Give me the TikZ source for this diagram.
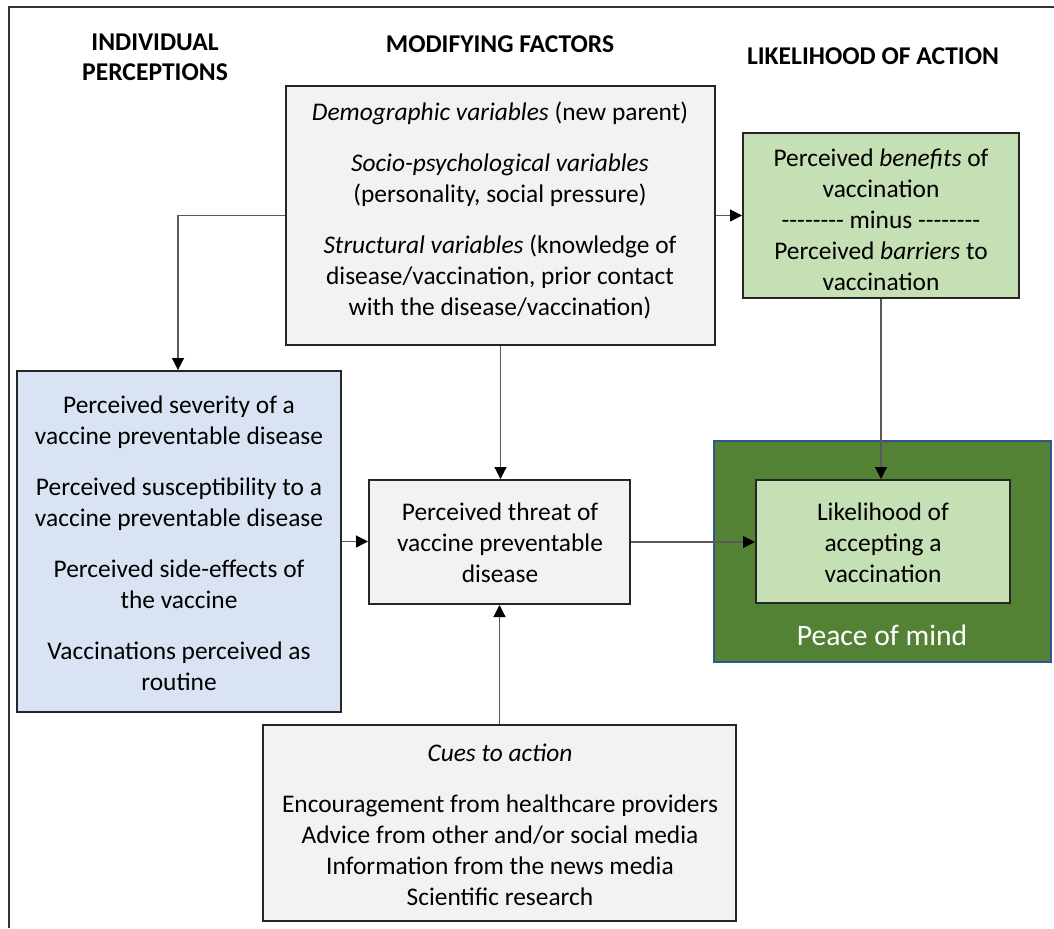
\documentclass[tikz,border=0pt]{standalone}
\usepackage{fontspec}
\setmainfont{Carlito}[Ligatures=TeXOff]
\usetikzlibrary{arrows.meta}
\definecolor{boxgray}{HTML}{F2F2F2}
\definecolor{boxblue}{HTML}{DAE3F3}
\definecolor{boxlgreen}{HTML}{C5E0B4}
\definecolor{boxdgreen}{HTML}{548235}
\definecolor{borderblue}{HTML}{2F5597}
\tikzset{
  box/.style={draw=black!85, line width=1pt, inner sep=0pt},
  txt/.style={align=center, inner sep=0pt, font=\fontsize{12.7}{15.5}\selectfont},
  head/.style={align=center, inner sep=0pt, font=\fontsize{12.8}{15}\selectfont\bfseries},
  arr/.style={draw=black!65, line width=0.6pt, -{Triangle[length=6pt,width=6pt,color=black]}}
}
\begin{document}
\begin{tikzpicture}[x=0.5pt,y=-0.5pt]
\useasboundingbox (0,0) rectangle (1054,928);
% outer frame (cut off on right and bottom)
\draw[black!80, line width=1pt] (9,928) -- (9,7) -- (1054,7);

% headings
\node[head] (h1) at (155,57) {INDIVIDUAL\\PERCEPTIONS};
\node[head] (h2) at (500,44) {MODIFYING FACTORS};
\node[head] (h3) at (873,56) {LIKELIHOOD OF ACTION};

% boxes
\node[box, fill=boxgray, minimum width=214.5pt, minimum height=129.5pt] (mod) at (500.5,215.5) {};
\node[box, fill=boxlgreen, minimum width=138pt, minimum height=82.5pt] (ben) at (881,215.5) {};
\node[box, fill=boxblue, minimum width=162pt, minimum height=170.5pt] (ind) at (179,541.5) {};
\node[box, fill=boxgray, minimum width=130.5pt, minimum height=62pt] (thr) at (499.5,542) {};
\node[draw=borderblue, line width=1pt, fill=boxdgreen, inner sep=0pt, minimum width=168.5pt, minimum height=110.5pt] (pom) at (882.5,551.5) {};
\node[box, fill=boxlgreen, minimum width=127pt, minimum height=61.5pt] (lik) at (883,541.5) {};
\node[box, fill=boxgray, minimum width=236.5pt, minimum height=98pt] (cue) at (499.5,823) {};

% texts
\node[txt] (modt) at (500,210) {\textit{Demographic variables} (new parent)\\[10pt]
\textit{Socio-psychological variables}\\(personality, social pressure)\\[10pt]
\textit{Structural variables} (knowledge of\\disease/vaccination, prior contact\\with the disease/vaccination)};
\node[txt] (bent) at (881,220) {Perceived \textit{benefits} of\\vaccination\\-------- minus --------\\Perceived \textit{barriers} to\\vaccination};
\node[txt] (indt) at (179,543) {Perceived severity of a\\vaccine preventable disease\\[10pt]
Perceived susceptibility to a\\vaccine preventable disease\\[10pt]
Perceived side-effects of\\the vaccine\\[10pt]
Vaccinations perceived as\\routine};
\node[txt] (thrt) at (500,543) {Perceived threat of\\vaccine preventable\\disease};
\node[txt] (likt) at (883,543) {Likelihood of\\accepting a\\vaccination};
\node[txt, text=white, font=\fontsize{14.8}{17}\selectfont] (pomt) at (882,635) {Peace of mind};
\node[txt] (cuet) at (500,824.5) {\textit{Cues to action}\\[10pt]
Encouragement from healthcare providers\\Advice from other and/or social media\\Information from the news media\\Scientific research};

% connectors
\coordinate (bend) at (178,215.5);
\draw[arr] (mod.west) -- (bend) -- (bend |- ind.north);
\draw[arr] (mod.east) -- (ben.west);
\draw[arr] (mod.south) -- (mod.south |- thr.north);
\draw[arr] (ind.east) -- (ind.east -| thr.west);
\draw[arr] (thr.east) -- (thr.east -| lik.west);
\draw[arr] (ben.south) -- (ben.south |- lik.north);
\draw[arr] (cue.north) -- (cue.north |- thr.south);
\end{tikzpicture}
\end{document}
